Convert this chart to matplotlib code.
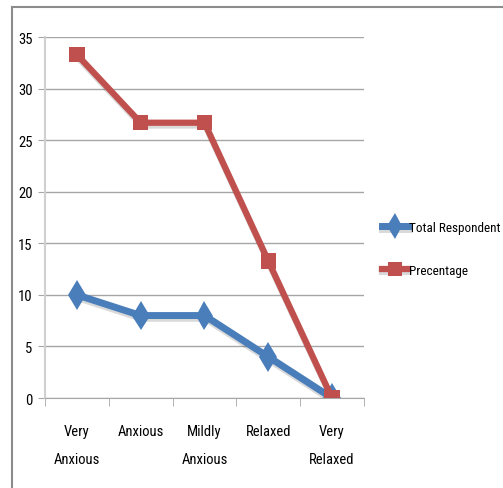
import matplotlib.pyplot as plt
import matplotlib.patheffects as pe
from matplotlib.lines import Line2D

plt.rcParams['font.family'] = ['Roboto Condensed', 'Noto Sans', 'DejaVu Sans']
plt.rcParams['font.stretch'] = 'condensed'

categories = ["Very\nAnxious", "Anxious", "Mildly\nAnxious", "Relaxed", "Very\nRelaxed"]
total_respondent = [10, 8, 8, 4, 0]
percentage = [33.3, 26.7, 26.7, 13.3, 0]

blue = '#4a7ebb'
red = '#c0504d'

fig = plt.figure(figsize=(5.03, 4.89), dpi=100)
ax = fig.add_axes([0.0895, 0.184, 0.634, 0.738])

shadow = [pe.SimpleLineShadow(offset=(0.5, -2), alpha=0.15, shadow_color='k'), pe.Normal()]
x = range(len(categories))
ax.plot(x, total_respondent, color=blue, lw=5, marker='d', markersize=15,
        markeredgewidth=0, path_effects=shadow, zorder=3)
ax.plot(x, percentage, color=red, lw=4.5, marker='s', markersize=11,
        markeredgewidth=0, path_effects=shadow, zorder=4)

ax.set_xlim(-0.5, 4.5)
ax.set_ylim(0, 35)
ax.set_yticks(range(0, 36, 5))
ax.yaxis.grid(True, color='#a6a6a6', lw=1)
ax.set_axisbelow(True)

ax.set_xticks(x)
ax.set_xticklabels(categories, fontsize=10.5, linespacing=2.25)
ax.set_xticks([-0.5, 0.5, 1.5, 2.5, 3.5, 4.5], minor=True)
ax.tick_params(axis='x', which='major', length=0, pad=19)
ax.tick_params(axis='x', which='minor', length=6, color='#a6a6a6', direction='out')
ax.tick_params(axis='y', length=5, color='#a6a6a6', labelsize=10.5, pad=4)

for side in ['top', 'right']:
    ax.spines[side].set_visible(False)
ax.spines['left'].set_color('#d0d0d0')
ax.spines['left'].set_linewidth(1.5)
ax.spines['bottom'].set_color('#a6a6a6')

handles = [Line2D([], [], color=blue, lw=5, marker='d', markersize=13, markeredgewidth=0, path_effects=shadow),
           Line2D([], [], color=red, lw=4.5, marker='s', markersize=10, markeredgewidth=0, path_effects=shadow)]
fig.legend(handles, ['Total Respondent', 'Precentage'], loc='center left',
           bbox_to_anchor=(0.735, 0.489), frameon=False, fontsize=9.5,
           handlelength=2.0, handletextpad=0.1, labelspacing=2.3)

# chart border, top and left edges only
fig.add_artist(Line2D([12 / 503, 1], [1 - 8 / 489, 1 - 8 / 489], color='#8c8c8c', lw=1.5))
fig.add_artist(Line2D([12 / 503, 12 / 503], [0, 1 - 8 / 489], color='#8c8c8c', lw=1.5))

fig.savefig('out.png', dpi=100)
